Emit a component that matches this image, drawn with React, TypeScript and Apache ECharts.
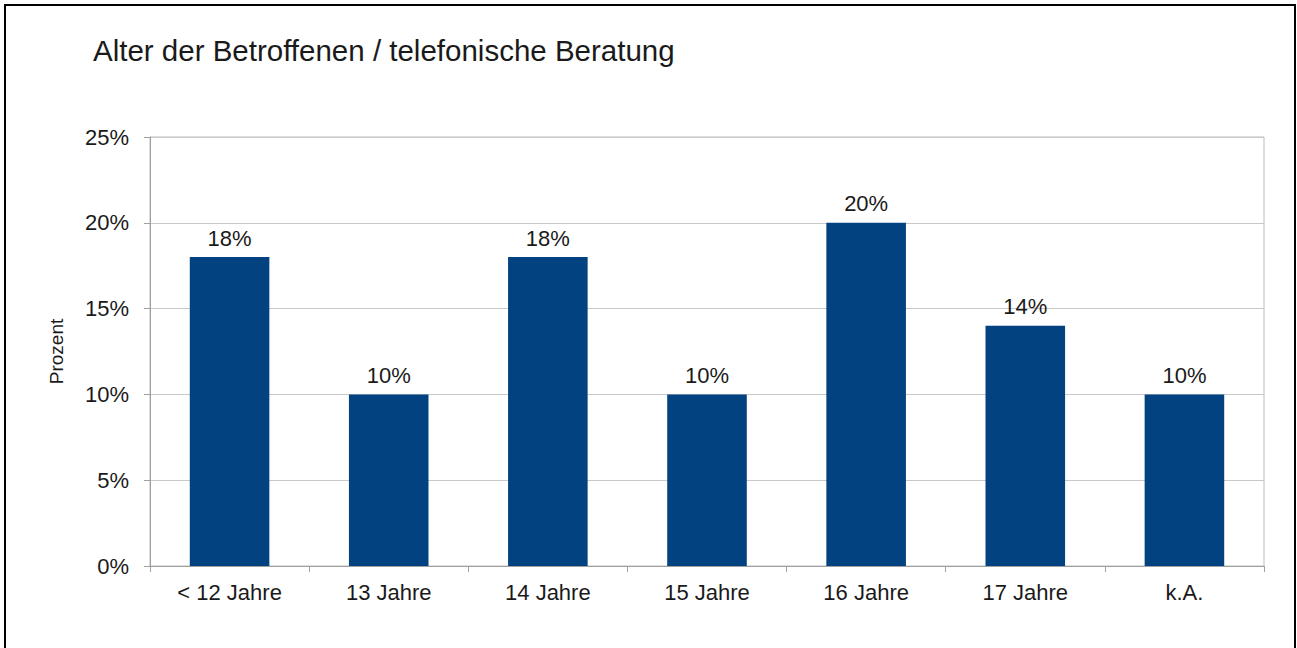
import React, { useEffect, useRef } from "react";
import * as echarts from "echarts";

const categories = ["< 12 Jahre", "13 Jahre", "14 Jahre", "15 Jahre", "16 Jahre", "17 Jahre", "k.A."];
const values = [0.18, 0.10, 0.18, 0.10, 0.20, 0.14, 0.10];
const titleText = "Alter der Betroffenen / telefonische Beratung";
const yAxisName = "Prozent";

export default function App() {
  const ref = useRef<HTMLDivElement>(null);
  useEffect(() => {
    if (!ref.current) return;
    const chart = echarts.init(ref.current, null, { renderer: "svg" });
    const font = "Arial, 'Liberation Sans', sans-serif";
    chart.setOption({
      animation: false,
      backgroundColor: "#ffffff",
      textStyle: { fontFamily: font },
      title: {
        text: titleText,
        left: 88,
        top: 30,
        textStyle: { fontFamily: font, fontSize: 29.5, fontWeight: "normal", color: "#1a1a1a" },
      },
      graphic: [
        {
          type: "rect",
          shape: { x: 5, y: 5, width: 1290, height: 700 },
          style: { fill: "none", stroke: "#000", lineWidth: 2 },
          silent: true,
        },
      ],
      grid: { left: 150, right: 33, top: 137, bottom: 82, show: true, borderColor: "#bdbdbd", borderWidth: 1, containLabel: false },
      xAxis: {
        type: "category",
        data: categories,
        axisLine: { lineStyle: { color: "#a0a0a0" } },
        axisTick: { show: true, length: 6, alignWithLabel: false, lineStyle: { color: "#a0a0a0" } },
        axisLabel: { fontFamily: font, fontSize: 22, color: "#1a1a1a", margin: 15 },
      },
      yAxis: {
        type: "value",
        min: 0,
        max: 0.25,
        interval: 0.05,
        name: yAxisName,
        nameLocation: "middle",
        nameGap: 84,
        nameRotate: 90,
        nameTextStyle: { fontFamily: font, fontSize: 19, color: "#1a1a1a" },
        axisLine: { show: true, lineStyle: { color: "#a0a0a0" } },
        axisTick: { show: true, length: 6, lineStyle: { color: "#a0a0a0" } },
        axisLabel: {
          fontFamily: font,
          fontSize: 22,
          color: "#1a1a1a",
          margin: 21,
          formatter: (v: number) => Math.round(v * 100) + "%",
        },
        splitLine: { show: true, lineStyle: { color: "#c8c8c8" } },
      },
      series: [
        {
          type: "bar",
          data: values,
          barWidth: "50%",
          itemStyle: { color: "#024281" },
          label: {
            show: true,
            position: "top",
            distance: 8,
            fontFamily: font,
            fontSize: 22,
            color: "#1a1a1a",
            formatter: (p: any) => Math.round(p.value * 100) + "%",
          },
        },
      ],
    });
    return () => chart.dispose();
  }, []);
  return (
    <div
      ref={ref}
      style={{ position: "fixed", left: 0, top: 0, width: 1297, height: 648 }}
    />
  );
}
